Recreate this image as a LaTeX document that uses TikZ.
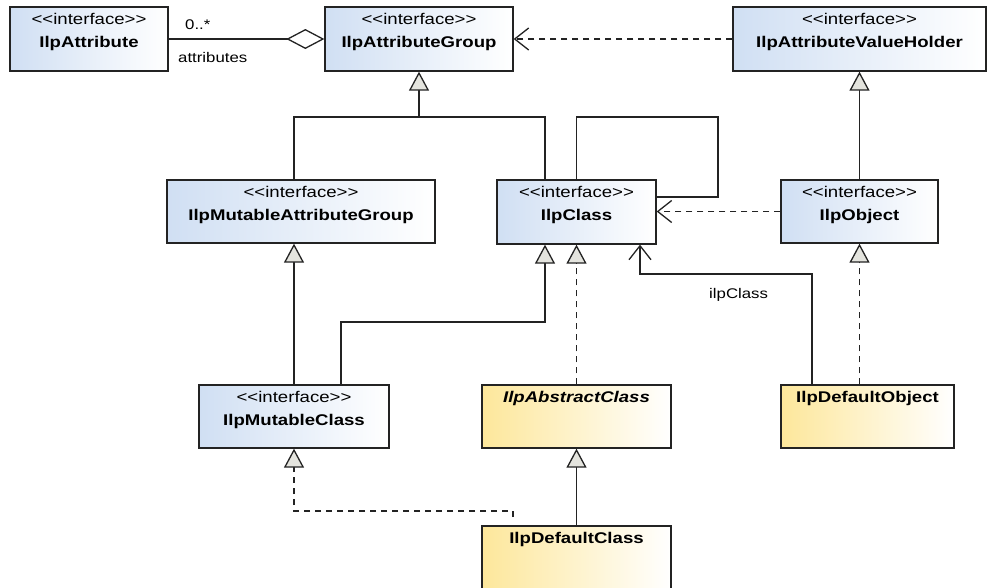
\documentclass[tikz,border=0pt]{standalone}
\usepackage{fontspec}
\newfontfamily\umlfont[FakeStretch=1.2]{Liberation Sans}
\usetikzlibrary{arrows.meta}

\definecolor{ifblue}{RGB}{208,223,243}
\definecolor{clyel}{RGB}{253,231,155}
\definecolor{edgec}{RGB}{35,35,35}
\definecolor{trifill}{RGB}{228,228,222}

% <<interface>> without the TeX ligature mapping turning << into a guillemet
\newcommand{\stereotype}{<\kern0pt<interface>\kern0pt>}

% interface box: name, centre, title, width, height
\newcommand{\ifacebox}[5]{%
  \node[iface, minimum width=#4, minimum height=#5] (#1) at (#2) {};
  \node[stereo] (#1-s) at ([yshift=-18pt]#1.north) {\stereotype};
  \node[cname] (#1-n) at ([yshift=-41.5pt]#1.north) {#3};
}
% implementation class box: name, centre, title, width, height
\newcommand{\implbox}[5]{%
  \node[impl, minimum width=#4, minimum height=#5] (#1) at (#2) {};
  \node[cname] (#1-n) at ([yshift=-18pt]#1.north) {#3};
}

\tikzset{
  box/.style={draw=edgec, line width=1.3pt, rectangle, inner sep=0pt},
  iface/.style={box, left color=ifblue, right color=white},
  impl/.style={box, left color=clyel, right color=white},
  stereo/.style={inner sep=0pt, anchor=base, font={\umlfont\fontsize{15.5}{18}\selectfont}},
  cname/.style={inner sep=0pt, anchor=base, font={\umlfont\fontsize{15.5}{18}\selectfont\bfseries}},
  lbl/.style={inner sep=0pt, anchor=base west, font={\umlfont\fontsize{14}{17}\selectfont}},
  conn/.style={draw=edgec, line width=1.3pt},
  gen/.style={conn, -{Triangle[length=19pt, width=20pt, fill=trifill]}},
  real/.style={gen, dash pattern=on 6pt off 5pt},
  dep/.style={conn, dash pattern=on 6pt off 5pt, -{Straight Barb[length=14pt, width=22pt]}},
  nav/.style={conn, -{Straight Barb[length=14pt, width=22pt]}},
  agg/.style={conn, -{Diamond[length=38pt, width=20pt, fill=white]}},
}

\begin{document}
\begin{tikzpicture}[x=1pt, y=-1pt]
\useasboundingbox (0,0) rectangle (989,587);
\clip (0,0) rectangle (989,587);

% ---- boxes ----
\ifacebox{attr}{89,39}{IlpAttribute}{158pt}{64pt}
\ifacebox{group}{419,39}{IlpAttributeGroup}{188pt}{64pt}
\ifacebox{holder}{859.5,39}{IlpAttributeValueHolder}{253pt}{64pt}
\ifacebox{mgroup}{301,211.5}{IlpMutableAttributeGroup}{268pt}{63pt}
\ifacebox{cls}{576.5,212}{IlpClass}{159pt}{64pt}
\ifacebox{obj}{859.5,211.5}{IlpObject}{157pt}{63pt}
\ifacebox{mcls}{294,416.5}{IlpMutableClass}{190pt}{63pt}

\node[impl, minimum width=189pt, minimum height=63pt] (abs) at (576.5,416.5) {};
\node[cname, font={\umlfont\fontsize{15.5}{18}\selectfont\bfseries\itshape}] (abs-n)
  at ([yshift=-18pt]abs.north) {IlpAbstractClass};
\implbox{dobj}{867.5,416.5}{IlpDefaultObject}{173pt}{63pt}
\implbox{dcls}{576.5,566}{IlpDefaultClass}{189pt}{80pt}

% ---- junctions and free ends ----
\coordinate (j1) at (419,117);
\coordinate (j2) at (545,322);
\coordinate (k1) at (640,274);
\coordinate (loop) at (718,117);
\coordinate (e1) at (513,517);
\coordinate (e2) at (513,511);

% ---- aggregation ----
\draw[agg] (attr.east) -- (group.west);
\node[lbl] (mult) at (185,29) {0..*};
\node[lbl] (role) at (178,62) {attributes};

% ---- dependencies ----
\draw[dep] (holder.west) -- (group.east);
\draw[dep] (obj.west) -- (obj.west -| cls.east);

% ---- generalizations ----
\draw[conn] (mgroup.north -| mcls.north) |- (j1);
\draw[conn] ([xshift=-31.5pt]cls.north) |- (j1);
\draw[gen] (j1) -- (group.south);
\draw[gen] (obj.north) -- (holder.south -| obj.north);
\draw[gen] (mcls.north) -- (mcls.north |- mgroup.south);
\draw[gen] ([xshift=47pt]mcls.north) |- (j2) -- (j2 |- cls.south);
\draw[gen] (dcls.north) -- (abs.south);

% ---- realizations ----
\draw[real] (abs.north) -- (cls.south);
\draw[real] (dobj.north -| obj.south) -- (obj.south);
\draw[real] (e1) -- (e2) -| (mcls.south);

% ---- self association of IlpClass ----
\draw[conn] (cls.north) |- (loop) |- ([yshift=15pt]cls.east);

% ---- navigable association to IlpClass ----
\draw[nav] ([xshift=-55.5pt]dobj.north) |- (k1) -- (k1 |- cls.south);
\node[lbl] (nav-l) at (709,298) {ilpClass};
\end{tikzpicture}
\end{document}
